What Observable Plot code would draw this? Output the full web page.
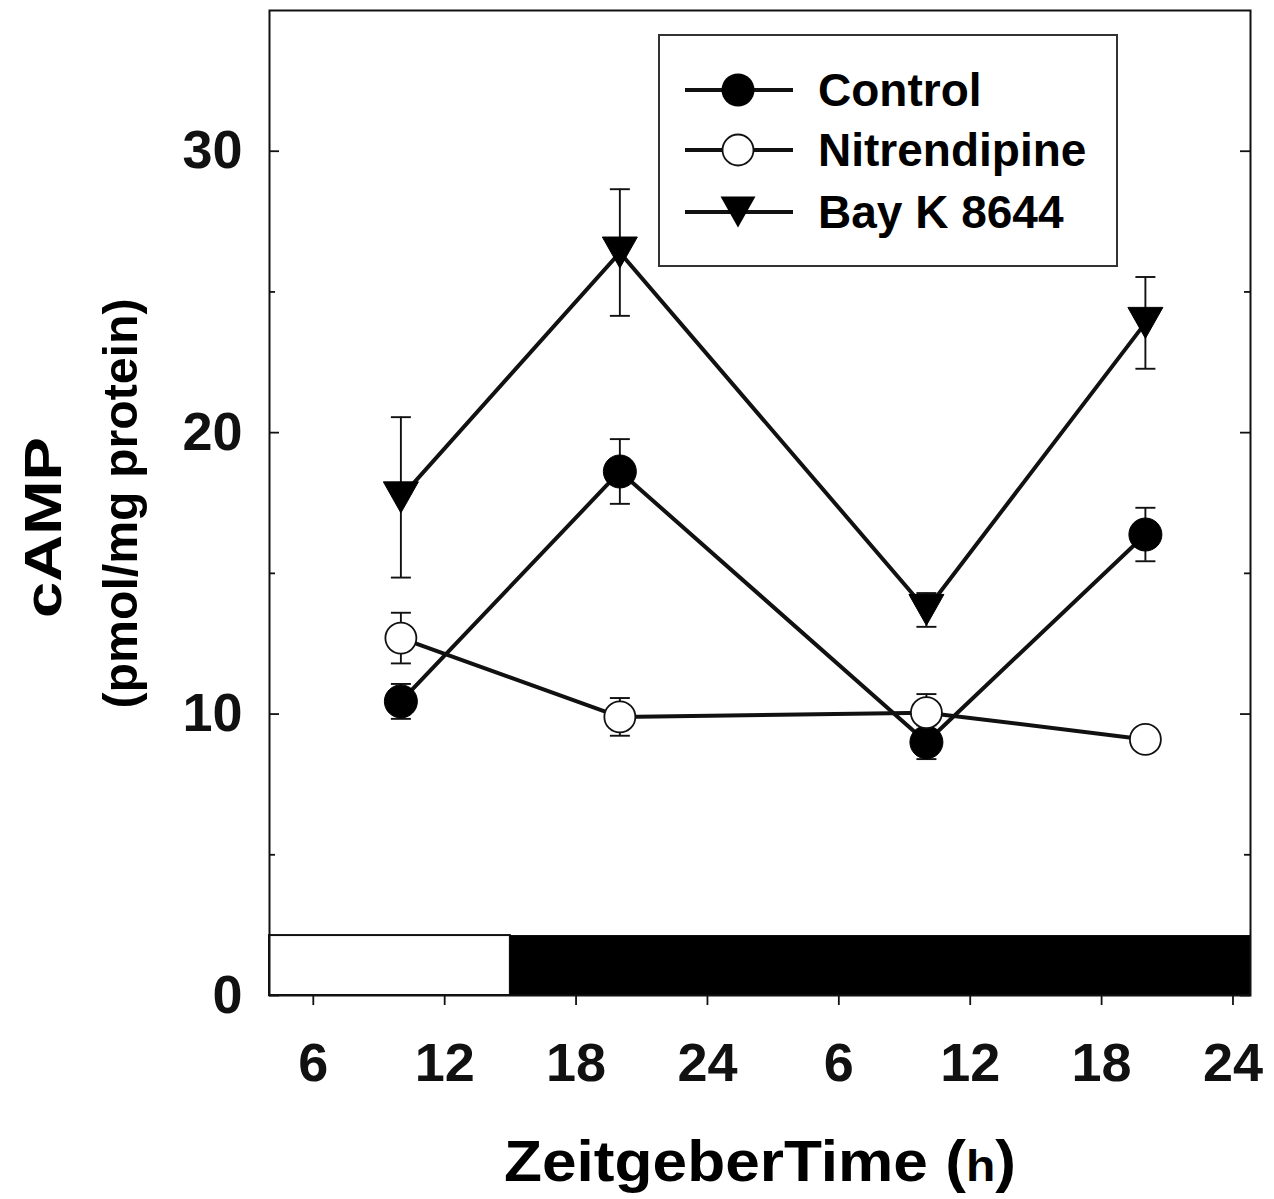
<!DOCTYPE html>
<html><head><meta charset="utf-8">
<script src="https://cdn.jsdelivr.net/npm/d3@7"></script>
<script src="https://cdn.jsdelivr.net/npm/@observablehq/plot@0.6"></script>
<style>
html,body{margin:0;padding:0;background:#fff;}
#wrap{position:relative;width:1274px;height:1199px;}
#legend{position:absolute;left:658px;top:34px;}
</style></head><body><div id="wrap"></div>
<script>
// ---- data ----
const times = [10, 20, 34, 44];              // Zeitgeber time, continuous hours (day 2 = +24)
const control = [10.45, 18.62, 9.0, 16.38];
const controlSE = [0.62, 1.15, 0.6, 0.95];
const nitrendipine = [12.7, 9.9, 10.05, 9.1];
const nitrendipineSE = [0.9, 0.67, 0.66, 0.3];
const bayK = [17.7, 26.4, 13.7, 23.9];
const bayKSE = [2.85, 2.25, 0.6, 1.63];
const seriesNames = ["Control", "Nitrendipine", "Bay K 8644"];
const xTicks = [6, 12, 18, 24, 30, 36, 42, 48];
const yTicks = [0, 10, 20, 30];
const yMinorTicks = [5, 15, 25];
const lightPhase = [4, 15];
const darkPhase = [15, 48.8];
const lightBarTop = 2.13;
const xDomain = [4, 48.8];
const yDomain = [0, 35];

// ---- build tables ----
const values = [control, nitrendipine, bayK];
const ses = [controlSE, nitrendipineSE, bayKSE];
const data = seriesNames.flatMap((name, k) =>
  times.map((t, i) => ({series: name, t, v: values[k][i], se: ses[k][i]})));
const bySeries = name => data.filter(d => d.series === name);
const phases = [
  {x1: lightPhase[0], x2: lightPhase[1], kind: "light"},
  {x1: darkPhase[0], x2: darkPhase[1], kind: "dark"}
];

const W = 1274, H = 1199, ML = 269, MR = 24, MT = 10, MB = 204;
const FW = W - ML - MR;
const ink = "#111";

const capSymbol = {draw(ctx) { ctx.moveTo(-10, 0); ctx.lineTo(10, 0); }};
const triDown = {draw(ctx) { ctx.moveTo(-17.5, -15.5); ctx.lineTo(17.5, -15.5); ctx.lineTo(0, 15.5); ctx.closePath(); }};

const chart = Plot.plot({
  width: W, height: H,
  marginLeft: ML, marginRight: MR, marginTop: MT, marginBottom: MB,
  style: {fontFamily: "'Liberation Sans', Arial, sans-serif", fontWeight: "bold", fontSize: "54px", color: ink, background: "white"},
  x: {domain: xDomain},
  y: {domain: yDomain},
  marks: [
    // light / dark bar
    Plot.rect(phases.filter(d => d.kind === "light"), {x1: "x1", x2: "x2", y1: 0, y2: lightBarTop, fill: "white", stroke: ink, strokeWidth: 2}),
    Plot.rect(phases.filter(d => d.kind === "dark"), {x1: "x1", x2: "x2", y1: 0, y2: lightBarTop, fill: "black"}),
    Plot.frame({stroke: ink, strokeWidth: 2}),
    // axes
    Plot.axisX({ticks: xTicks, tickFormat: d => d > 24 ? d - 24 : d, tickSize: 10, tickPadding: 37, strokeWidth: 1.8, label: null, fontSize: 54, fontWeight: "bold"}),
    Plot.axisY({ticks: yTicks, tickSize: 0, tickPadding: 27, label: null, fontSize: 54, fontWeight: "bold"}),
    // inward ticks, left and right
    Plot.tickY(yTicks, {y: d => d, insetRight: FW - 10, stroke: ink, strokeWidth: 1.8}),
    Plot.tickY(yTicks, {y: d => d, insetLeft: FW - 10, stroke: ink, strokeWidth: 1.8}),
    Plot.tickY(yMinorTicks, {y: d => d, insetRight: FW - 6, stroke: ink, strokeWidth: 1.8}),
    Plot.tickY(yMinorTicks, {y: d => d, insetLeft: FW - 6, stroke: ink, strokeWidth: 1.8}),
    // error bars
    Plot.ruleX(data, {x: "t", y1: d => d.v - d.se, y2: d => d.v + d.se, stroke: ink, strokeWidth: 1.9}),
    Plot.dot(data, {x: "t", y: d => d.v + d.se, symbol: capSymbol, stroke: ink, strokeWidth: 1.9, fill: "none"}),
    Plot.dot(data, {x: "t", y: d => d.v - d.se, symbol: capSymbol, stroke: ink, strokeWidth: 1.9, fill: "none"}),
    // lines
    Plot.line(data, {x: "t", y: "v", z: "series", stroke: ink, strokeWidth: 4}),
    // markers
    Plot.dot(bySeries("Control"), {x: "t", y: "v", r: 16.5, fill: "black", stroke: "black", strokeWidth: 1}),
    Plot.dot(bySeries("Nitrendipine"), {x: "t", y: "v", r: 15.5, fill: "white", stroke: ink, strokeWidth: 1.8}),
    Plot.dot(bySeries("Bay K 8644"), {x: "t", y: "v", symbol: triDown, fill: "black", stroke: "black", strokeWidth: 1}),
    // axis titles
    Plot.text(["cAMP"], {frameAnchor: "left", textAnchor: "middle", lineAnchor: "middle", rotate: -90, dx: 44 - ML, dy: 527 - 502.5, fontSize: 52, fontWeight: "bold", fill: "black"}),
    Plot.text(["(pmol/mg protein)"], {frameAnchor: "left", textAnchor: "middle", lineAnchor: "middle", rotate: -90, dx: 121 - ML, dy: 503 - 502.5, fontSize: 48, fontWeight: "bold", fill: "black"}),
    Plot.text(["ZeitgeberTime (h)"], {frameAnchor: "bottom", textAnchor: "middle", lineAnchor: "middle", dx: 0, dy: 167, fontSize: 57, fontWeight: "bold", fill: "black"})
  ]
});

// stretch titles to the reference's lengths; smaller "h" in the x title
const SVGNS = "http://www.w3.org/2000/svg";
chart.querySelectorAll("text").forEach(t => {
  const s = t.textContent;
  if (s === "ZeitgeberTime (h)") {
    t.textContent = "";
    const a = document.createElementNS(SVGNS, "tspan"); a.textContent = "ZeitgeberTime (";
    const b = document.createElementNS(SVGNS, "tspan"); b.textContent = "h"; b.setAttribute("font-size", "44");
    const c = document.createElementNS(SVGNS, "tspan"); c.textContent = ")";
    t.append(a, b, c);
    t.setAttribute("textLength", 512); t.setAttribute("lengthAdjust", "spacingAndGlyphs");
  } else if (s === "cAMP") {
    t.setAttribute("textLength", 181); t.setAttribute("lengthAdjust", "spacingAndGlyphs");
  } else if (s === "(pmol/mg protein)") {
    t.setAttribute("textLength", 410); t.setAttribute("lengthAdjust", "spacingAndGlyphs");
  }
});

const wrap = document.getElementById("wrap");
wrap.appendChild(chart);

// legend box
const lw = 460, lh = 233;
const lg = d3.create("svg").attr("id", "legend").attr("width", lw).attr("height", lh)
  .style("font-family", "'Liberation Sans', Arial, sans-serif").style("font-weight", "bold");
lg.append("rect").attr("x", 1).attr("y", 1).attr("width", lw - 2).attr("height", lh - 2)
  .attr("fill", "white").attr("stroke", "#333").attr("stroke-width", 2);
const rowsY = [56, 116, 178];
seriesNames.forEach((name, i) => {
  const y = rowsY[i];
  lg.append("line").attr("x1", 27).attr("x2", 135).attr("y1", y).attr("y2", y).attr("stroke", ink).attr("stroke-width", 4);
  if (i === 0) lg.append("circle").attr("cx", 80).attr("cy", y).attr("r", 16.5).attr("fill", "black");
  if (i === 1) lg.append("circle").attr("cx", 80).attr("cy", y).attr("r", 15.5).attr("fill", "white").attr("stroke", ink).attr("stroke-width", 1.8);
  if (i === 2) lg.append("path").attr("transform", `translate(80,${y})`).attr("d", "M-17.5,-15.5L17.5,-15.5L0,15.5Z").attr("fill", "black");
  lg.append("text").attr("x", 160).attr("y", y).attr("dy", "0.35em").attr("font-size", 46).attr("fill", "black").text(name);
});
wrap.appendChild(lg.node());
</script></body></html>
